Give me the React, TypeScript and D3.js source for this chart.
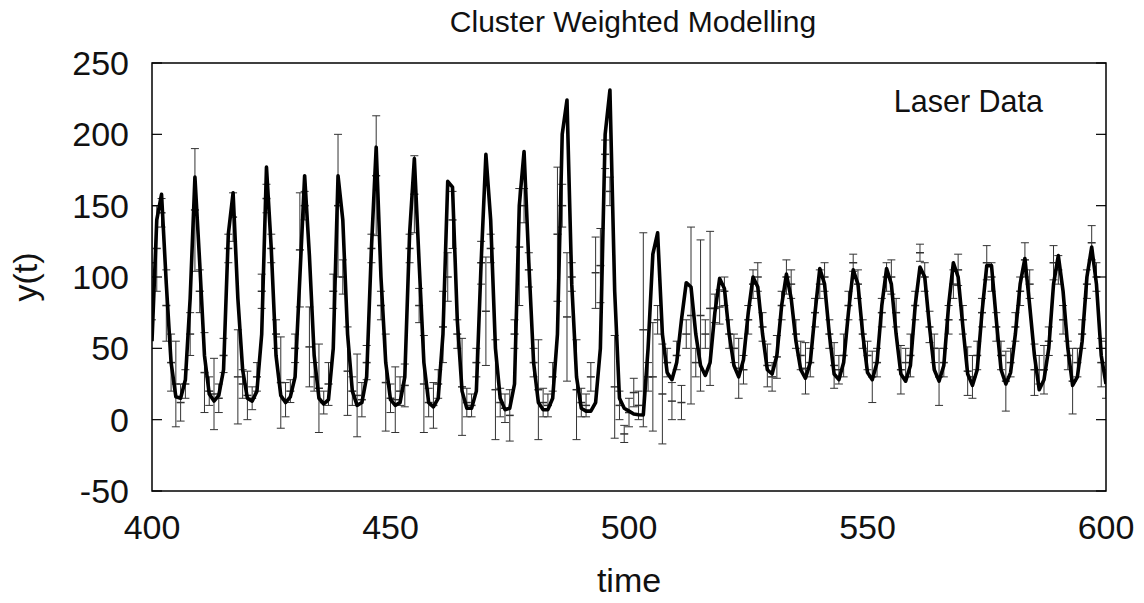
import React from "react";
import * as d3 from "d3";

// time axis starts at 400, one sample per step
const startTime = 400;

// measured laser intensity (the thick line)
const laserValues = [
  55, 140, 158, 95, 40, 16, 15, 28, 85, 170,
  110, 45, 18, 13, 17, 35, 130, 159, 85, 35,
  15, 13, 20, 60, 177, 120, 45, 17, 12, 16,
  30, 100, 171, 115, 45, 15, 11, 14, 50, 171,
  140, 60, 20, 10, 12, 30, 120, 191, 100, 40,
  14, 10, 12, 30, 130, 183, 110, 40, 12, 9,
  15, 60, 167, 163, 70, 20, 8, 8, 20, 110,
  186, 140, 50, 15, 7, 8, 25, 150, 188, 110,
  40, 12, 7, 7, 15, 60, 200, 224, 95, 30,
  8, 6, 6, 12, 50, 200, 231, 90, 15, 8,
  6, 4, 3.5, 3.3, 50, 116, 131, 60, 33, 28,
  40, 70, 96, 93, 60, 38, 31, 40, 75, 99,
  92, 60, 38, 30, 42, 75, 100, 93, 60, 35,
  32, 45, 80, 102, 85, 55, 35, 29, 40, 75,
  106, 95, 60, 32, 28, 40, 75, 105, 95, 60,
  33, 28, 40, 80, 106, 95, 60, 32, 27, 38,
  80, 107, 100, 65, 35, 27, 38, 80, 110, 100,
  65, 32, 24, 35, 75, 108, 108, 70, 35, 25,
  33, 60, 95, 113, 80, 45, 21, 28, 50, 95,
  115, 90, 50, 24, 30, 55, 100, 121, 95, 45,
  25,
];

// CWM prediction (error bar centre)
const predicted = [
  110, 120, 145, 80, 40, 25, 12, 25, 60, 147,
  90, 33, 20, 18, 15, 45, 120, 142, 30, 25,
  17, 15, 30, 90, 155, 120, 60, 26, 14, 20,
  50, 119, 150, 51, 30, 22, 12, 25, 90, 150,
  100, 34, 20, 17, 14, 40, 120, 171, 80, 26,
  15, 14, 20, 24, 120, 158, 80, 25, 12, 10,
  25, 65, 100, 140, 60, 23, 12, 10, 40, 110,
  76, 120, 21, 12, 8, 3, 60, 121, 150, 105,
  40, 21, 12, 10, 30, 130, 150, 72, 100, 21,
  12, 10, 30, 103, 108, 186, 160, 23, 10, -10,
  5, 19, 10, 63, 30, 30, 70, 18, 40, 13,
  45, 12, 60, 73, 40, 73, 60, 78, 78, 79,
  90, 60, 50, 36, 35, 70, 95, 100, 65, 38,
  30, 44, 80, 100, 95, 60, 45, 36, 40, 75,
  95, 100, 60, 38, 35, 45, 80, 110, 95, 60,
  45, 30, 40, 75, 100, 100, 75, 35, 40, 45,
  80, 117, 100, 65, 50, 30, 40, 70, 95, 105,
  70, 34, 30, 45, 75, 110, 100, 65, 45, 27,
  40, 65, 90, 112, 95, 35, 35, 35, 55, 110,
  105, 70, 45, 27, 40, 60, 95, 124, 100, 40,
  35,
];

// prediction uncertainty (half width of error bar)
const predError = [
  40, 30, 10, 25, 20, 30, 13, 10, 15, 43,
  15, 28, 10, 25, 10, 12, 10, 17, 33, 10,
  17, 8, 10, 12, 10, 10, 10, 32, 12, 8,
  10, 40, 10, 28, 10, 31, 8, 15, 12, 50,
  12, 31, 10, 29, 12, 12, 10, 42, 10, 34,
  10, 23, 10, 15, 10, 27, 12, 34, 10, 16,
  10, 25, 17, 20, 10, 34, 10, 8, 10, 15,
  38, 10, 35, 10, 10, 18, 10, 41, 12, 12,
  10, 35, 10, 8, 10, 47, 15, 45, 10, 35,
  10, 8, 10, 25, 26, 10, 10, 36, 10, 6,
  10, 10, 10, 68, 10, 38, 10, 35, 10, 13,
  10, 12, 10, 62, 10, 53, 10, 54, 10, 12,
  10, 10, 10, 21, 10, 10, 10, 10, 10, 15,
  10, 15, 10, 12, 10, 10, 10, 18, 10, 10,
  10, 10, 10, 16, 10, 15, 10, 6, 10, 10,
  10, 18, 10, 10, 10, 12, 10, 17, 10, 15,
  10, 6, 10, 11, 10, 20, 10, 10, 10, 11,
  10, 17, 15, 10, 10, 12, 10, 10, 10, 21,
  10, 10, 10, 12, 10, 18, 10, 17, 10, 12,
  10, 10, 10, 23, 10, 10, 10, 12, 10, 17,
  20,
];

const xTicks = [400, 450, 500, 550, 600];
const yTicks = [-50, 0, 50, 100, 150, 200, 250];

const width = 1144;
const height = 603;
const margin = { top: 63, right: 38, bottom: 112, left: 152 };
const font = "'Liberation Sans', Arial, Helvetica, sans-serif";

const App = () => {
  const innerW = width - margin.left - margin.right;
  const innerH = height - margin.top - margin.bottom;

  const x = d3.scaleLinear().domain([400, 600]).range([0, innerW]);
  const y = d3.scaleLinear().domain([-50, 250]).range([innerH, 0]);

  const points = laserValues.map((v, i) => ({
    t: startTime + i,
    v,
    p: predicted[i],
    e: predError[i],
  }));

  const line = d3
    .line<{ t: number; v: number }>()
    .x((d) => x(d.t))
    .y((d) => y(d.v));

  const cap = 4;

  return (
    <div style={{ position: "fixed", left: 0, top: 0 }}>
      <svg width={width} height={height} style={{ display: "block", background: "#fff" }}>
        <text
          x={margin.left + innerW / 2 + 4}
          y={32}
          textAnchor="middle"
          fontFamily={font}
          fontSize={30}
          fill="#111"
        >
          Cluster Weighted Modelling
        </text>

        <g transform={`translate(${margin.left}, ${margin.top})`}>
          <defs>
            <clipPath id="plot-clip">
              <rect x={0} y={0} width={innerW} height={innerH} />
            </clipPath>
          </defs>

          {/* error bars */}
          <g clipPath="url(#plot-clip)" stroke="#333" strokeWidth={1}>
            {points.map((d) => {
              const cx = x(d.t);
              const top = y(d.p + d.e);
              const bottom = y(d.p - d.e);
              const mid = y(d.p);
              return (
                <g key={d.t}>
                  <line x1={cx} x2={cx} y1={top} y2={bottom} />
                  <line x1={cx - cap} x2={cx + cap} y1={top} y2={top} />
                  <line x1={cx - cap} x2={cx + cap} y1={bottom} y2={bottom} />
                  <line x1={cx - cap} x2={cx + cap} y1={mid} y2={mid} strokeWidth={1.5} />
                </g>
              );
            })}
          </g>

          {/* laser data */}
          <path
            d={line(points) || ""}
            fill="none"
            stroke="#000"
            strokeWidth={3.6}
            strokeLinejoin="round"
            clipPath="url(#plot-clip)"
          />

          {/* frame */}
          <rect x={0} y={0} width={innerW} height={innerH} fill="none" stroke="#000" strokeWidth={1.5} />

          {/* y ticks, inward on both sides */}
          {yTicks.map((tick) => (
            <g key={tick}>
              <line x1={0} x2={10} y1={y(tick)} y2={y(tick)} stroke="#000" strokeWidth={1.2} />
              <line x1={innerW - 10} x2={innerW} y1={y(tick)} y2={y(tick)} stroke="#000" strokeWidth={1.2} />
              <text
                x={-23}
                y={y(tick) + 12}
                textAnchor="end"
                fontFamily={font}
                fontSize={34}
                fill="#111"
              >
                {tick}
              </text>
            </g>
          ))}

          {/* x tick labels */}
          {xTicks.map((tick) => (
            <text
              key={tick}
              x={x(tick)}
              y={innerH + 48}
              textAnchor="middle"
              fontFamily={font}
              fontSize={34}
              fill="#111"
            >
              {tick}
            </text>
          ))}

          <text
            x={innerW - 63}
            y={49}
            textAnchor="end"
            fontFamily={font}
            fontSize={30.5}
            fill="#111"
          >
            Laser Data
          </text>
        </g>

        <text
          x={margin.left + innerW / 2}
          y={592}
          textAnchor="middle"
          fontFamily={font}
          fontSize={34}
          fill="#111"
        >
          time
        </text>
        <text
          transform={`translate(37, 277) rotate(-90)`}
          textAnchor="middle"
          fontFamily={font}
          fontSize={34}
          fill="#111"
        >
          y(t)
        </text>
      </svg>
    </div>
  );
};

export default App;
